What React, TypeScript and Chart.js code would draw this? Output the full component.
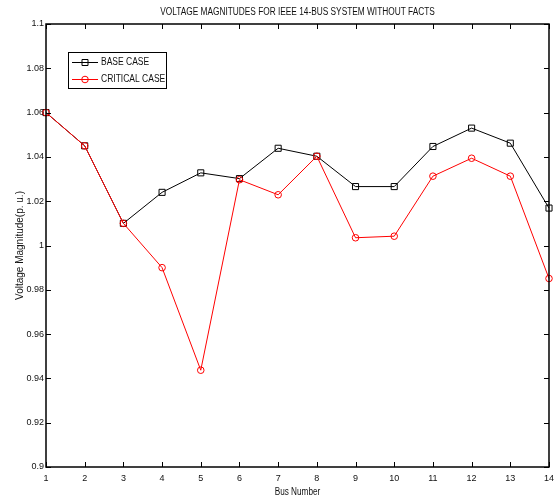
import React, { useEffect, useRef } from "react";
import { Chart, registerables } from "chart.js";

Chart.register(...registerables);

const busNumbers = [1, 2, 3, 4, 5, 6, 7, 8, 9, 10, 11, 12, 13, 14];
const baseCase = [1.06, 1.045, 1.01, 1.024, 1.0328, 1.0302, 1.0439, 1.0403, 1.0266, 1.0266, 1.0447, 1.053, 1.0462, 1.0169];
const criticalCase = [1.06, 1.045, 1.01, 0.99, 0.9437, 1.0297, 1.0229, 1.0403, 1.0035, 1.0042, 1.0313, 1.0394, 1.0313, 0.9851];
const yTickValues = [0.9, 0.92, 0.94, 0.96, 0.98, 1.0, 1.02, 1.04, 1.06, 1.08, 1.1];
const yTickLabels = ["0.9", "0.92", "0.94", "0.96", "0.98", "1", "1.02", "1.04", "1.06", "1.08", "1.1"];
const xTickLabels = ["1", "2", "3", "4", "5", "6", "7", "8", "9", "10", "11", "12", "13", "14"];

const TITLE = "VOLTAGE MAGNITUDES FOR IEEE 14-BUS SYSTEM WITHOUT FACTS";
const X_TITLE = "Bus Number";
const Y_TITLE = "Voltage Magnitude(p. u.)";

const FONT = "'Liberation Sans', Arial, sans-serif";

function squeezedText(ctx: any, text: string, x: number, y: number, sx: number) {
  ctx.save();
  ctx.translate(x, y);
  ctx.scale(sx, 1);
  ctx.fillText(text, 0, 0);
  ctx.restore();
}

const boxTicksPlugin = {
  id: "boxTicks",
  afterDraw(chart: any) {
    const { ctx, chartArea, scales } = chart;
    const { left, right, top, bottom } = chartArea;
    const L = 5;
    ctx.save();
    ctx.strokeStyle = "#000";
    ctx.lineWidth = 1;
    ctx.beginPath();
    busNumbers.forEach((v) => {
      const px = Math.round(scales.x.getPixelForValue(v)) + 0.5;
      ctx.moveTo(px, bottom);
      ctx.lineTo(px, bottom - L);
      ctx.moveTo(px, top);
      ctx.lineTo(px, top + L);
    });
    yTickValues.forEach((v) => {
      const py = Math.round(scales.y.getPixelForValue(v)) + 0.5;
      ctx.moveTo(left, py);
      ctx.lineTo(left + L, py);
      ctx.moveTo(right, py);
      ctx.lineTo(right - L, py);
    });
    ctx.stroke();
    ctx.lineWidth = 1.5;
    ctx.strokeRect(left, top, right - left, bottom - top);

    // titles
    ctx.fillStyle = "#111";
    ctx.font = "10px " + FONT;
    ctx.textAlign = "center";
    ctx.textBaseline = "middle";
    const cx = (left + right) / 2;
    squeezedText(ctx, TITLE, cx, 12, 0.83);
    squeezedText(ctx, X_TITLE, cx, 492, 0.82);
    ctx.restore();

    // legend
    const bx = 68, by = 52, bw = 98, bh = 36;
    ctx.save();
    ctx.fillStyle = "#fff";
    ctx.fillRect(bx, by, bw, bh);
    ctx.strokeStyle = "#000";
    ctx.lineWidth = 1;
    ctx.strokeRect(bx + 0.5, by + 0.5, bw, bh);
    const rows = [62, 79];
    chart.data.datasets.forEach((ds: any, i: number) => {
      const y = rows[i] + 0.5;
      ctx.strokeStyle = ds.borderColor;
      ctx.lineWidth = 1;
      ctx.beginPath();
      ctx.moveTo(72, y);
      ctx.lineTo(98, y);
      ctx.stroke();
      ctx.beginPath();
      if (ds.pointStyle === "rect") {
        ctx.rect(85 - 3, y - 3, 6, 6);
      } else {
        ctx.arc(85, y, 3.3, 0, Math.PI * 2);
      }
      ctx.stroke();
      ctx.fillStyle = "#111";
      ctx.font = "10px " + FONT;
      ctx.textBaseline = "middle";
      ctx.textAlign = "left";
      squeezedText(ctx, ds.label, 101, y, 0.85);
    });
    ctx.restore();
  },
};

export default function App() {
  const ref = useRef<HTMLCanvasElement>(null);
  useEffect(() => {
    document.body.style.margin = "0";
    const chart = new Chart(ref.current as HTMLCanvasElement, {
      type: "line",
      data: {
        datasets: [
          {
            label: "BASE CASE",
            data: busNumbers.map((b, i) => ({ x: b, y: baseCase[i] })),
            borderColor: "#000",
            backgroundColor: "transparent",
            borderWidth: 1,
            pointStyle: "rect",
            pointRadius: 4.3,
            pointBorderWidth: 1,
            pointBorderColor: "#000",
            pointBackgroundColor: "transparent",
            order: 1,
            clip: false as any,
          },
          {
            label: "CRITICAL CASE",
            data: busNumbers.map((b, i) => ({ x: b, y: criticalCase[i] })),
            borderColor: "#ff0000",
            backgroundColor: "transparent",
            borderWidth: 1,
            pointStyle: "circle",
            pointRadius: 3.3,
            pointBorderWidth: 1,
            pointBorderColor: "#ff0000",
            pointBackgroundColor: "transparent",
            order: 0,
            clip: false as any,
          },
        ],
      },
      options: {
        animation: false,
        responsive: false,
        layout: { padding: { left: 0, right: 8, top: 24, bottom: 0 } },
        plugins: {
          legend: { display: false },
          tooltip: { enabled: false },
          title: { display: false },
        },
        scales: {
          x: {
            type: "linear",
            min: 1,
            max: 14,
            afterBuildTicks: (scale: any) => {
              scale.ticks = busNumbers.map((v) => ({ value: v }));
            },
            afterFit: (scale: any) => {
              scale.height = 30;
            },
            ticks: {
              color: "#111",
              font: { family: FONT, size: 9 },
              padding: 6,
              maxRotation: 0,
              autoSkip: false,
              callback: (v: any) => xTickLabels[busNumbers.indexOf(Number(v))] ?? "",
            },
            grid: { display: false, drawTicks: false },
            border: { display: false },
            title: { display: false },
          },
          y: {
            type: "linear",
            min: 0.9,
            max: 1.1,
            afterBuildTicks: (scale: any) => {
              scale.ticks = yTickValues.map((v) => ({ value: v }));
            },
            afterFit: (scale: any) => {
              scale.width = 46;
            },
            ticks: {
              color: "#111",
              font: { family: FONT, size: 9 },
              padding: 2,
              autoSkip: false,
              callback: (v: any) => {
                const idx = yTickValues.findIndex((t) => Math.abs(t - Number(v)) < 1e-9);
                return idx >= 0 ? yTickLabels[idx] : "";
              },
            },
            grid: { display: false, drawTicks: false },
            border: { display: false },
            title: {
              display: true,
              text: Y_TITLE,
              color: "#111",
              font: { family: FONT, size: 10 },
              padding: { top: 14, bottom: 0 },
            },
          },
        },
      },
      plugins: [boxTicksPlugin],
    } as any);
    return () => chart.destroy();
  }, []);
  return (
    <div style={{ position: "absolute", left: 0, top: 0, width: 560, height: 497, background: "#fff" }}>
      <canvas ref={ref} width={560} height={497} style={{ display: "block" }} />
    </div>
  );
}
